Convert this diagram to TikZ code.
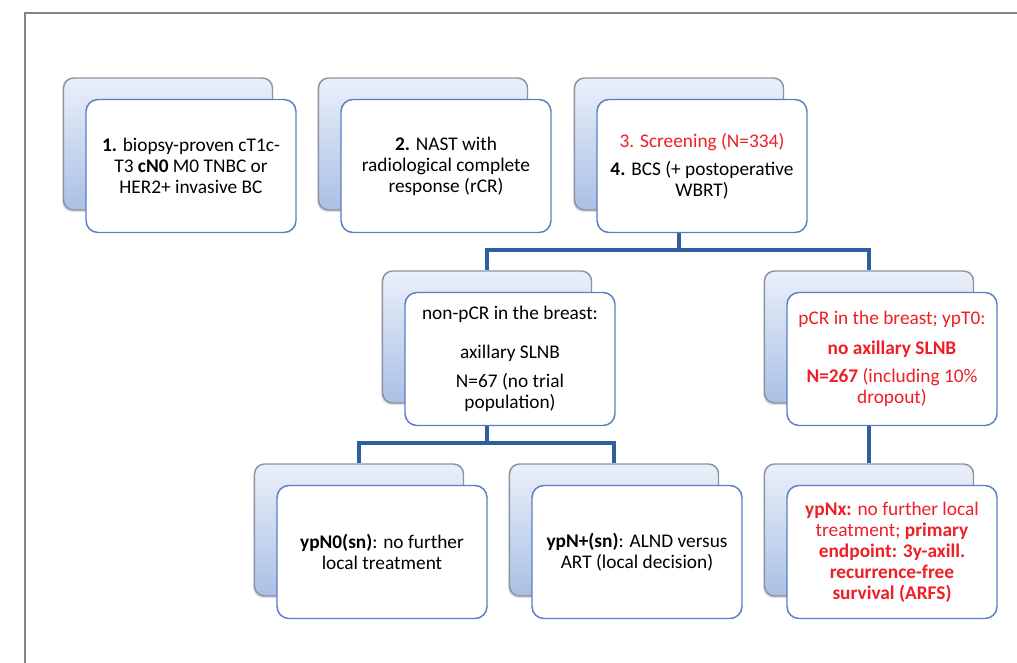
\documentclass[tikz,border=0pt]{standalone}
\usepackage{fontspec}
\setmainfont{Carlito}
\usetikzlibrary{shadows}

\definecolor{boxblue}{HTML}{5A7EC4}
\definecolor{linkblue}{HTML}{2F5F9E}
\definecolor{backtop}{HTML}{EAF0F9}
\definecolor{backbot}{HTML}{A9C0E5}
\definecolor{backedge}{HTML}{8A939F}
\definecolor{frameg}{HTML}{858585}
\definecolor{alert}{HTML}{EE1F26}

\pgfdeclarelayer{bg}
\pgfsetlayers{bg,main}

\begin{document}
\begin{tikzpicture}[x=0.75pt,y=-0.75pt,
  backcard/.style={draw=backedge, line width=1.1pt, rounded corners=7.5pt,
    top color=backtop, bottom color=backbot,
    minimum width=156.75pt, minimum height=99pt, inner sep=0pt,
    drop shadow={shadow xshift=-1pt, shadow yshift=-1.5pt, opacity=0.25}},
  frontcard/.style={draw=boxblue, line width=1.1pt, rounded corners=9pt,
    fill=white, minimum width=157.5pt, minimum height=99.75pt,
    align=center, inner sep=0pt,
    font=\fontsize{14.5}{15.75}\selectfont},
  link/.style={draw=linkblue, line width=3pt},
]
\useasboundingbox (0,0) rectangle (1017,663);

% outer frame
\draw[frameg, line width=1.5pt] (25,663) -- (25,13) -- (1017,13);

% top row
\node[backcard] (b1) at (168,144) {};
\node[frontcard] (f1) at (191,166)
  {\textbf{1.} biopsy-proven cT1c-\\T3 \textbf{cN0} M0 TNBC or\\HER2+ invasive BC};

\node[backcard] (b2) at (423,144) {};
\node[frontcard] (f2) at (446,166)
  {\textbf{2.} NAST with\\radiological complete\\response (rCR)};

\node[backcard] (b3) at (679,144) {};
\node[frontcard] (f3) at (702,166)
  {{\color{alert}3. Screening (N=334)}\\[5.25pt]\textbf{4.} BCS (+ postoperative\\WBRT)};

% middle row
\node[backcard] (bm1) at (487,337) {};
\node[frontcard] (m1) at (510,359)
  {non-pCR in the breast:\\[13.5pt]axillary SLNB\\[6pt]N=67 (no trial\\population)};

\node[backcard] (bm2) at (869,337) {};
\node[frontcard, text=alert] (m2) at (892,359)
  {pCR in the breast; ypT0:\\[6.75pt]\textbf{no axillary SLNB}\\[5.25pt]\textbf{N=267} (including 10\%\\dropout)};

% bottom row
\node[backcard] (bl1) at (359,530) {};
\node[frontcard] (l1) at (382,552)
  {\textbf{ypN0(sn)}: no further\\local treatment};

\node[backcard] (bl2) at (614,530) {};
\node[frontcard] (l2) at (637,552)
  {\textbf{ypN+(sn)}: ALND versus\\ART (local decision)};

\node[backcard] (bl3) at (869,530) {};
\node[frontcard, text=alert] (l3) at (892,552)
  {\textbf{ypNx:} no further local\\treatment; \textbf{primary}\\\textbf{endpoint: 3y-axill.}\\\textbf{recurrence-free}\\\textbf{survival (ARFS)}};

% connectors, drawn beneath the cards
\coordinate (bus1) at (679,250);
\coordinate (bus2) at (487,443);
\begin{pgfonlayer}{bg}
  \draw[link] (b3.south) -- (bus1) -| (bm1.north);
  \draw[link] (bus1) -| (bm2.north);
  \draw[link] (bm1.south) -- (bus2) -| (bl1.north);
  \draw[link] (bus2) -| (bl2.north);
  \draw[link] (bm2.south) -- (bl3.north);
\end{pgfonlayer}
\end{tikzpicture}
\end{document}
